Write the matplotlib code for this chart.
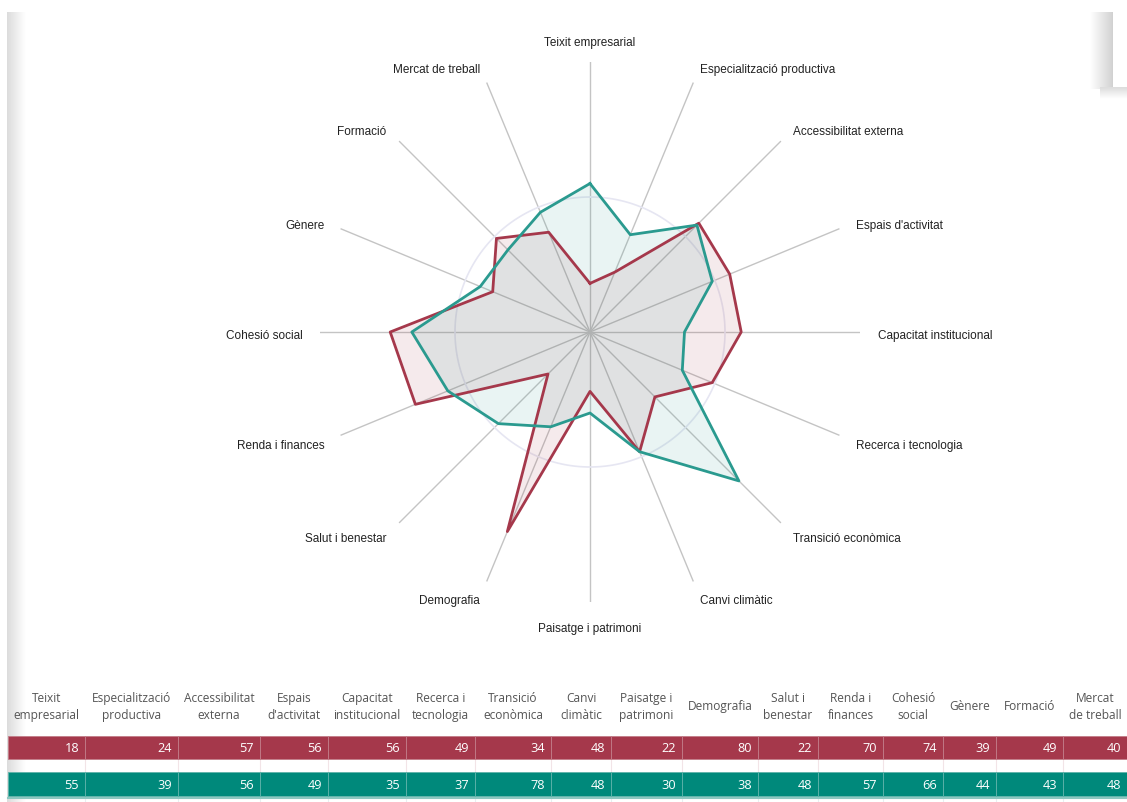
import numpy as np
import matplotlib
matplotlib.use("Agg")
import matplotlib.pyplot as plt
from matplotlib.patches import Rectangle

# dades
categories = ["Teixit empresarial", "Especialització productiva", "Accessibilitat externa",
              "Espais d'activitat", "Capacitat institucional", "Recerca i tecnologia",
              "Transició econòmica", "Canvi climàtic", "Paisatge i patrimoni", "Demografia",
              "Salut i benestar", "Renda i finances", "Cohesió social", "Gènere",
              "Formació", "Mercat de treball"]
table_headers = ["Teixit\nempresarial", "Especialització\nproductiva", "Accessibilitat\nexterna",
                 "Espais\nd'activitat", "Capacitat\ninstitucional", "Recerca i\ntecnologia",
                 "Transició\neconòmica", "Canvi\nclimàtic", "Paisatge i\npatrimoni", "Demografia",
                 "Salut i\nbenestar", "Renda i\nfinances", "Cohesió\nsocial", "Gènere",
                 "Formació", "Mercat\nde treball"]
serie_vermella = [18, 24, 57, 56, 56, 49, 34, 48, 22, 80, 22, 70, 74, 39, 49, 40]
serie_verda = [55, 39, 56, 49, 35, 37, 78, 48, 30, 38, 48, 57, 66, 44, 43, 48]

RED = "#a5384b"
TEAL = "#2a9a8f"
TEAL_ROW = "#00897b"

W, H = 1127, 803
fig = plt.figure(figsize=(W / 100, H / 100), dpi=100)
fig.patch.set_facecolor("white")

# decoracio de pagina (ombres)
bg = fig.add_axes([0, 0, 1, 1])
bg.set_xlim(0, W)
bg.set_ylim(H, 0)
bg.axis("off")
grad = np.linspace(0.86, 1.0, 64)[None, :]
bg.imshow(np.repeat(grad, 2, axis=0), cmap="gray", vmin=0, vmax=1,
          extent=[7, 26, H, 13], aspect="auto", zorder=0)
grad2 = np.linspace(1.0, 0.82, 64)[None, :]
bg.imshow(np.repeat(grad2, 2, axis=0), cmap="gray", vmin=0, vmax=1,
          extent=[1090, 1113, 90, 13], aspect="auto", zorder=0)
grad3 = np.linspace(0.86, 1.0, 64)[:, None]
bg.imshow(np.repeat(grad3, 2, axis=1), cmap="gray", vmin=0, vmax=1,
          extent=[1100, W, 100, 88], aspect="auto", zorder=0)
bg.add_patch(Rectangle((1113, 13), 20, 75, facecolor="white", edgecolor="none", zorder=1))

# radar
cx, cy, R = 590, 333, 270
ax = fig.add_axes([(cx - R) / W, (H - cy - R) / H, 2 * R / W, 2 * R / H], projection="polar")
ax.set_theta_zero_location("N")
ax.set_theta_direction(-1)
ax.set_ylim(0, 100)
ax.grid(False)
ax.set_xticks([])
ax.set_yticks([])
ax.spines["polar"].set_visible(False)
ax.patch.set_alpha(0)

n = len(categories)
theta = np.arange(n) * 2 * np.pi / n
for t in theta:
    ax.plot([t, t], [0, 100], color="#c4c4c4", lw=1, zorder=1)
circ = np.linspace(0, 2 * np.pi, 200)
ax.plot(circ, np.full_like(circ, 50), color="#e6e6f2", lw=1.2, zorder=1)

tc = np.append(theta, theta[0])
for vals, col in [(serie_vermella, RED), (serie_verda, TEAL)]:
    v = np.append(vals, vals[0])
    ax.fill(tc, v, color=col, alpha=0.1, lw=0, zorder=2)
    ax.plot(tc, v, color=col, lw=2, zorder=3)

for t, lab in zip(theta, categories):
    s = np.sin(t)
    if s > 0.01:
        ha, r = "left", 106.5
    elif s < -0.01:
        ha, r = "right", 106.5
    else:
        ha, r = "center", 108.5
    ax.annotate(lab, (t, r), xytext=(0, -2), textcoords="offset points",
                ha=ha, va="center", fontsize=8.5,
                family="Liberation Sans", color="#222222", annotation_clip=False)

# taula
edges = [8, 85, 178, 260, 328, 406, 475, 551, 611, 682, 758, 818, 883, 943, 996, 1063, 1127]
lefts = np.array(edges[:-1])
widths = np.diff(edges)
tf = dict(family="Open Sans")
for l, w, h in zip(lefts, widths, table_headers):
    bg.text(l + w / 2, 707, h, ha="center", va="center", fontsize=8.6,
            color="#555555", linespacing=1.45, **tf)
bg.bar(lefts, 23, width=widths, bottom=737, align="edge", color=RED,
       edgecolor="#c27c88", lw=0.6, zorder=2)
bg.bar(lefts, 24, width=widths, bottom=773, align="edge", color=TEAL_ROW,
       edgecolor="#5fb3aa", lw=0.6, zorder=2)
for x0 in edges[1:-1]:
    bg.plot([x0, x0], [760, 773], color="#f2e4e7", lw=0.8, zorder=1)
    bg.plot([x0, x0], [797, H], color="#e8eef0", lw=0.8, zorder=1)
bg.plot([8, W], [798.5, 798.5], color="#8cc7c0", lw=1.5, zorder=1)
for l, w, a, b in zip(lefts, widths, serie_vermella, serie_verda):
    bg.text(l + w - 6, 749, str(a), ha="right", va="center", fontsize=9.2,
            color="white", zorder=3, **tf)
    bg.text(l + w - 6, 786, str(b), ha="right", va="center", fontsize=9.2,
            color="white", zorder=3, **tf)

fig.savefig("out.png", dpi=100)
